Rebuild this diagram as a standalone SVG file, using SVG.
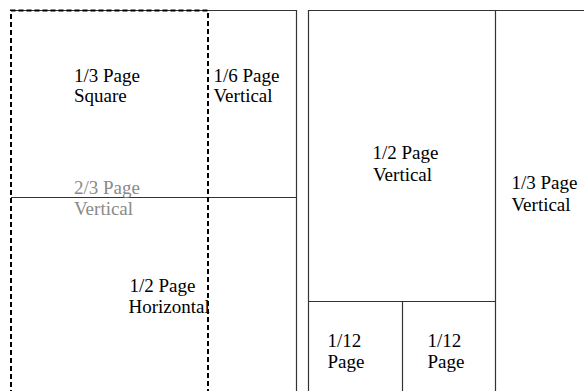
<svg xmlns="http://www.w3.org/2000/svg" width="584" height="391" viewBox="0 0 584 391">
<style>
.ln{stroke:#333;stroke-width:1.2;fill:none}
.dash{stroke:#000;stroke-width:2;fill:none;stroke-dasharray:5,3}
.t{font-family:"Liberation Serif","Times New Roman",Times,serif;font-size:19px;fill:#000}
.gray{fill:#8a8a8a}
</style>
<rect width="584" height="391" fill="#fff"/>
<g id="connectors">
<path class="ln" d="M11,10.5 H296.5 V391"/>
<path class="ln" d="M11,197.5 H296.5"/>
<path class="ln" d="M308.5,391 V10.5 H584"/>
<path class="ln" d="M495.5,10.5 V391"/>
<path class="ln" d="M308.5,301.5 H495.5"/>
<path class="ln" d="M402.5,301.5 V391"/>
<path class="dash" d="M11,395 V10.5 H208 V395"/>
</g>
<g id="n-third-square"><text class="t" x="74" y="81.5">1/3 Page</text><text class="t" x="74" y="102">Square</text></g>
<g id="n-sixth-vertical"><text class="t" x="213.5" y="81.5">1/6 Page</text><text class="t" x="213.5" y="102">Vertical</text></g>
<g id="n-twothirds-vertical"><text class="t gray" x="74" y="193.5">2/3 Page</text><text class="t gray" x="74" y="215">Vertical</text></g>
<g id="n-half-horizontal"><text class="t" x="129.5" y="291.5">1/2 Page</text><text class="t" x="128.5" y="313">Horizontal</text></g>
<g id="n-half-vertical"><text class="t" x="372.5" y="158.5">1/2 Page</text><text class="t" x="373" y="180.5">Vertical</text></g>
<g id="n-third-vertical"><text class="t" x="511.5" y="188.5">1/3 Page</text><text class="t" x="511.5" y="210.5">Vertical</text></g>
<g id="n-twelfth-1"><text class="t" x="327.5" y="346.5">1/12</text><text class="t" x="327.5" y="368">Page</text></g>
<g id="n-twelfth-2"><text class="t" x="427.5" y="346.5">1/12</text><text class="t" x="427.5" y="368">Page</text></g>
</svg>
